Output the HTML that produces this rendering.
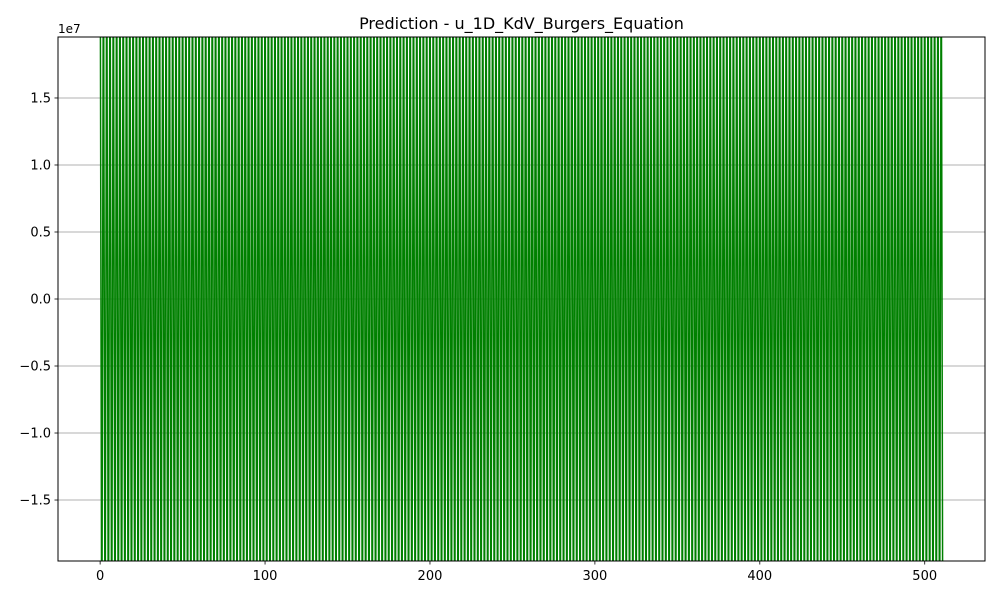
<!DOCTYPE html>
<html><head><meta charset="utf-8">
<style>
html,body{margin:0;padding:0;background:#fff;overflow:hidden;width:1000px;height:600px;}
svg{display:block;}
svg text{font-family:"DejaVu Sans","Liberation Sans",sans-serif;fill:#000;}
</style></head>
<body>
<svg id="chart" width="1000" height="600" xmlns="http://www.w3.org/2000/svg">
<rect width="1000" height="600" fill="#fff"/>
<text x="521.5" y="29" font-size="16" text-anchor="middle">Prediction - u_1D_KdV_Burgers_Equation</text>
<g id="grid"></g>
<defs><clipPath id="clip"><rect x="58" y="37" width="927" height="524"/></clipPath></defs>
<g id="series" clip-path="url(#clip)"></g>
<rect x="58" y="37" width="927" height="524" fill="none" stroke="#000" stroke-width="1"/>
<g id="axes"></g>
<text x="58" y="33" font-size="12">1e7</text>
</svg>
<script>
const xTicks = [0,100,200,300,400,500];
const yTicks = [-1.5,-1.0,-0.5,0.0,0.5,1.0,1.5];
const yTickLabels = ["\u22121.5","\u22121.0","\u22120.5","0.0","0.5","1.0","1.5"];
const predValues = [
3e7,-3e7,3e7,-3e7,3e7,-3e7,3e7,-3e7,3e7,-3e7,3e7,-3e7,3e7,-3e7,3e7,-3e7,
3e7,-3e7,3e7,-3e7,3e7,-3e7,3e7,-3e7,3e7,-3e7,3e7,-3e7,3e7,-3e7,3e7,-3e7,
3e7,-3e7,3e7,-3e7,3e7,-3e7,3e7,-3e7,3e7,-3e7,3e7,-3e7,3e7,-3e7,3e7,-3e7,
3e7,-3e7,3e7,-3e7,3e7,-3e7,3e7,-3e7,3e7,-3e7,3e7,-3e7,3e7,-3e7,3e7,-3e7,
3e7,-3e7,3e7,-3e7,3e7,-3e7,3e7,-3e7,3e7,-3e7,3e7,-3e7,3e7,-3e7,3e7,-3e7,
3e7,-3e7,3e7,-3e7,3e7,-3e7,3e7,-3e7,3e7,-3e7,3e7,-3e7,3e7,-3e7,3e7,-3e7,
3e7,-3e7,3e7,-3e7,3e7,-3e7,3e7,-3e7,3e7,-3e7,3e7,-3e7,3e7,-3e7,3e7,-3e7,
3e7,-3e7,3e7,-3e7,3e7,-3e7,3e7,-3e7,3e7,-3e7,3e7,-3e7,3e7,-3e7,3e7,-3e7,
3e7,-3e7,3e7,-3e7,3e7,-3e7,3e7,-3e7,3e7,-3e7,3e7,-3e7,3e7,-3e7,3e7,-3e7,
3e7,-3e7,3e7,-3e7,3e7,-3e7,3e7,-3e7,3e7,-3e7,3e7,-3e7,3e7,-3e7,3e7,-3e7,
3e7,-3e7,3e7,-3e7,3e7,-3e7,3e7,-3e7,3e7,-3e7,3e7,-3e7,3e7,-3e7,3e7,-3e7,
3e7,-3e7,3e7,-3e7,3e7,-3e7,3e7,-3e7,3e7,-3e7,3e7,-3e7,3e7,-3e7,3e7,-3e7,
3e7,-3e7,3e7,-3e7,3e7,-3e7,3e7,-3e7,3e7,-3e7,3e7,-3e7,3e7,-3e7,3e7,-3e7,
3e7,-3e7,3e7,-3e7,3e7,-3e7,3e7,-3e7,3e7,-3e7,3e7,-3e7,3e7,-3e7,3e7,-3e7,
3e7,-3e7,3e7,-3e7,3e7,-3e7,3e7,-3e7,3e7,-3e7,3e7,-3e7,3e7,-3e7,3e7,-3e7,
3e7,-3e7,3e7,-3e7,3e7,-3e7,3e7,-3e7,3e7,-3e7,3e7,-3e7,3e7,-3e7,3e7,-3e7,
3e7,-3e7,3e7,-3e7,3e7,-3e7,3e7,-3e7,3e7,-3e7,3e7,-3e7,3e7,-3e7,3e7,-3e7,
3e7,-3e7,3e7,-3e7,3e7,-3e7,3e7,-3e7,3e7,-3e7,3e7,-3e7,3e7,-3e7,3e7,-3e7,
3e7,-3e7,3e7,-3e7,3e7,-3e7,3e7,-3e7,3e7,-3e7,3e7,-3e7,3e7,-3e7,3e7,-3e7,
3e7,-3e7,3e7,-3e7,3e7,-3e7,3e7,-3e7,3e7,-3e7,3e7,-3e7,3e7,-3e7,3e7,-3e7,
3e7,-3e7,3e7,-3e7,3e7,-3e7,3e7,-3e7,3e7,-3e7,3e7,-3e7,3e7,-3e7,3e7,-3e7,
3e7,-3e7,3e7,-3e7,3e7,-3e7,3e7,-3e7,3e7,-3e7,3e7,-3e7,3e7,-3e7,3e7,-3e7,
3e7,-3e7,3e7,-3e7,3e7,-3e7,3e7,-3e7,3e7,-3e7,3e7,-3e7,3e7,-3e7,3e7,-3e7,
3e7,-3e7,3e7,-3e7,3e7,-3e7,3e7,-3e7,3e7,-3e7,3e7,-3e7,3e7,-3e7,3e7,-3e7,
3e7,-3e7,3e7,-3e7,3e7,-3e7,3e7,-3e7,3e7,-3e7,3e7,-3e7,3e7,-3e7,3e7,-3e7,
3e7,-3e7,3e7,-3e7,3e7,-3e7,3e7,-3e7,3e7,-3e7,3e7,-3e7,3e7,-3e7,3e7,-3e7,
3e7,-3e7,3e7,-3e7,3e7,-3e7,3e7,-3e7,3e7,-3e7,3e7,-3e7,3e7,-3e7,3e7,-3e7,
3e7,-3e7,3e7,-3e7,3e7,-3e7,3e7,-3e7,3e7,-3e7,3e7,-3e7,3e7,-3e7,3e7,-3e7,
3e7,-3e7,3e7,-3e7,3e7,-3e7,3e7,-3e7,3e7,-3e7,3e7,-3e7,3e7,-3e7,3e7,-3e7,
3e7,-3e7,3e7,-3e7,3e7,-3e7,3e7,-3e7,3e7,-3e7,3e7,-3e7,3e7,-3e7,3e7,-3e7,
3e7,-3e7,3e7,-3e7,3e7,-3e7,3e7,-3e7,3e7,-3e7,3e7,-3e7,3e7,-3e7,3e7,-3e7,
3e7,-3e7,3e7,-3e7,3e7,-3e7,3e7,-3e7,3e7,-3e7,3e7,-3e7,3e7,-3e7,3e7,-3e7
];

const NS = "http://www.w3.org/2000/svg";
const L = 58, R = 985, T = 37, B = 561;
const xMin = -25.55, xMax = 536.55;
const yMin = -1.955e7, yMax = 1.955e7;
function xs(v){ return L + (v - xMin) / (xMax - xMin) * (R - L); }
function ys(v){ return B - (v - yMin) / (yMax - yMin) * (B - T); }
function mk(tag, attrs){ const e = document.createElementNS(NS, tag); for (const k in attrs) e.setAttribute(k, attrs[k]); return e; }

const grid = document.getElementById('grid');
const axes = document.getElementById('axes');
yTicks.forEach((t, i) => {
  const y = ys(t * 1e7);
  const gl = mk('line', {x1: L, x2: R, y1: y, y2: y, stroke: '#b0b0b0', 'stroke-width': 1});
  
  
  grid.appendChild(gl);
  const tk = mk('line', {x1: L - 3.5, x2: L, y1: y, y2: y, stroke: '#000', 'stroke-width': 0.8});
  
  
  axes.appendChild(tk);
  const tx = mk('text', {x: L - 7, y: y + 4.5, 'font-size': 13, 'text-anchor': 'end'});
  tx.textContent = yTickLabels[i];
  
  
  axes.appendChild(tx);
});
xTicks.forEach(t => {
  const x = xs(t);
  const tk = mk('line', {x1: x, x2: x, y1: B, y2: B + 3.5, stroke: '#000', 'stroke-width': 0.8});
  
  
  axes.appendChild(tk);
  const tx = mk('text', {x: x, y: B + 19, 'font-size': 13, 'text-anchor': 'middle'});
  tx.textContent = String(t);
  
  
  axes.appendChild(tx);
});
const pts = predValues.map((v, i) => xs(i).toFixed(2) + ',' + ys(v).toFixed(2)).join(' ');
const line = mk('polyline', {points: pts, fill: 'none', stroke: '#008000', 'stroke-width': 1.5, 'stroke-linejoin': 'round'});


document.getElementById('series').appendChild(line);
</script>
</body></html>
